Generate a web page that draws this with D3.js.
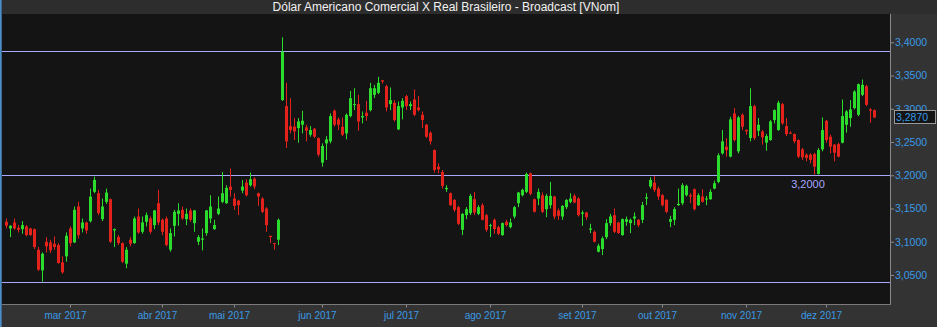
<!DOCTYPE html>
<html><head><meta charset="utf-8">
<script src="https://cdn.jsdelivr.net/npm/d3@7"></script>
<style>html,body{margin:0;padding:0;background:#333333;} svg{display:block}</style>
</head><body><svg id="c" width="937" height="327"></svg>
<script>
const title = "Dólar Americano Comercial X Real Brasileiro - Broadcast [VNom]";
const opens = [3.130,3.120,3.129,3.121,3.119,3.123,3.120,3.119,3.088,3.057,3.100,3.099,3.097,3.095,3.069,3.078,3.120,3.099,3.153,3.120,
3.129,3.131,3.175,3.173,3.134,3.160,3.164,3.117,3.107,3.098,3.067,3.103,3.098,3.138,3.115,3.130,3.135,3.125,3.158,3.133,
3.135,3.088,3.124,3.142,3.148,3.134,3.147,3.128,3.100,3.103,3.113,3.135,3.119,3.142,3.160,3.158,3.183,3.165,3.162,3.177,
3.189,3.185,3.195,3.173,3.165,3.150,3.109,3.098,3.103,3.313,3.304,3.274,3.273,3.271,3.276,3.272,3.261,3.270,3.256,3.219,
3.248,3.251,3.297,3.284,3.273,3.263,3.289,3.306,3.307,3.287,3.294,3.298,3.321,3.324,3.343,3.334,3.307,3.309,3.269,3.302,
3.319,3.304,3.314,3.302,3.291,3.276,3.264,3.238,3.213,3.205,3.179,3.173,3.163,3.152,3.118,3.140,3.143,3.164,3.142,3.155,
3.140,3.124,3.133,3.122,3.110,3.130,3.122,3.138,3.158,3.170,3.175,3.203,3.164,3.165,3.170,3.149,3.155,3.168,3.147,3.138,
3.152,3.160,3.169,3.165,3.142,3.144,3.118,3.115,3.085,3.089,3.107,3.128,3.140,3.129,3.110,3.130,3.128,3.135,3.133,3.133,
3.165,3.183,3.189,3.180,3.170,3.163,3.130,3.133,3.155,3.158,3.170,3.170,3.179,3.155,3.168,3.164,3.164,3.180,3.190,3.233,
3.243,3.228,3.293,3.236,3.291,3.268,3.256,3.304,3.267,3.266,3.249,3.253,3.283,3.268,3.307,3.274,3.264,3.262,3.253,3.239,
3.231,3.231,3.232,3.202,3.239,3.282,3.258,3.246,3.247,3.249,3.276,3.286,3.301,3.291,3.321,3.334,3.299,3.298];
const highs = [3.135,3.125,3.135,3.125,3.131,3.125,3.121,3.120,3.092,3.084,3.107,3.103,3.108,3.098,3.078,3.114,3.123,3.153,3.160,3.135,
3.130,3.180,3.198,3.178,3.165,3.180,3.165,3.120,3.110,3.099,3.092,3.107,3.138,3.150,3.138,3.144,3.138,3.148,3.178,3.135,
3.138,3.120,3.148,3.158,3.153,3.150,3.150,3.148,3.110,3.120,3.148,3.170,3.133,3.168,3.205,3.185,3.210,3.173,3.163,3.193,
3.194,3.204,3.197,3.174,3.167,3.152,3.109,3.098,3.135,3.4075,3.339,3.316,3.286,3.286,3.297,3.276,3.274,3.271,3.257,3.248,
3.259,3.293,3.299,3.287,3.287,3.293,3.327,3.331,3.321,3.296,3.312,3.339,3.336,3.348,3.343,3.336,3.332,3.313,3.311,3.316,
3.321,3.311,3.329,3.319,3.296,3.277,3.266,3.239,3.218,3.208,3.185,3.174,3.164,3.154,3.143,3.152,3.172,3.175,3.155,3.158,
3.142,3.127,3.135,3.124,3.129,3.133,3.135,3.154,3.175,3.180,3.204,3.204,3.165,3.180,3.174,3.172,3.190,3.169,3.150,3.155,
3.164,3.173,3.172,3.167,3.147,3.145,3.127,3.117,3.097,3.108,3.134,3.142,3.150,3.130,3.135,3.138,3.135,3.144,3.134,3.160,
3.173,3.197,3.199,3.183,3.172,3.164,3.139,3.152,3.180,3.188,3.186,3.173,3.180,3.173,3.179,3.169,3.179,3.192,3.233,3.268,
3.256,3.288,3.301,3.289,3.293,3.269,3.331,3.306,3.286,3.268,3.262,3.283,3.299,3.312,3.309,3.286,3.266,3.263,3.254,3.241,
3.233,3.233,3.234,3.241,3.287,3.283,3.261,3.247,3.249,3.314,3.298,3.313,3.328,3.338,3.344,3.336,3.301,3.299];
const lows = [3.120,3.107,3.118,3.114,3.112,3.108,3.109,3.089,3.056,3.040,3.084,3.083,3.088,3.067,3.052,3.070,3.093,3.098,3.105,3.114,
3.112,3.129,3.173,3.140,3.131,3.157,3.098,3.092,3.095,3.068,3.060,3.093,3.097,3.112,3.112,3.123,3.112,3.119,3.125,3.110,
3.093,3.085,3.108,3.124,3.133,3.125,3.130,3.115,3.095,3.087,3.109,3.128,3.118,3.140,3.158,3.157,3.168,3.148,3.140,3.173,
3.168,3.183,3.179,3.154,3.143,3.115,3.098,3.088,3.095,3.312,3.241,3.263,3.253,3.249,3.263,3.251,3.258,3.256,3.228,3.213,
3.223,3.248,3.273,3.268,3.259,3.254,3.287,3.298,3.267,3.278,3.282,3.296,3.316,3.322,3.338,3.296,3.298,3.281,3.268,3.284,
3.298,3.298,3.289,3.296,3.271,3.256,3.246,3.204,3.203,3.180,3.175,3.154,3.145,3.125,3.110,3.134,3.140,3.140,3.140,3.132,
3.115,3.107,3.112,3.110,3.109,3.123,3.120,3.135,3.152,3.168,3.173,3.170,3.144,3.155,3.143,3.137,3.150,3.134,3.133,3.133,
3.149,3.158,3.158,3.138,3.124,3.133,3.113,3.099,3.084,3.080,3.104,3.124,3.113,3.112,3.109,3.124,3.113,3.125,3.122,3.128,
3.155,3.180,3.175,3.163,3.153,3.143,3.122,3.125,3.154,3.155,3.168,3.158,3.147,3.154,3.159,3.155,3.163,3.179,3.188,3.231,
3.228,3.227,3.251,3.233,3.268,3.261,3.251,3.253,3.259,3.246,3.237,3.252,3.278,3.267,3.276,3.259,3.262,3.248,3.226,3.223,
3.221,3.218,3.201,3.201,3.236,3.249,3.233,3.221,3.227,3.248,3.264,3.273,3.299,3.289,3.319,3.304,3.279,3.286];
const closes = [3.124,3.124,3.120,3.118,3.125,3.110,3.110,3.092,3.058,3.082,3.093,3.087,3.092,3.068,3.054,3.109,3.098,3.148,3.110,3.129,
3.117,3.168,3.193,3.143,3.153,3.174,3.100,3.119,3.098,3.070,3.088,3.097,3.135,3.114,3.129,3.140,3.115,3.147,3.129,3.115,
3.095,3.113,3.145,3.147,3.135,3.142,3.133,3.147,3.107,3.105,3.147,3.153,3.125,3.150,3.173,3.181,3.178,3.154,3.155,3.183,
3.170,3.194,3.183,3.168,3.145,3.125,3.107,3.097,3.133,3.386,3.251,3.268,3.266,3.281,3.282,3.267,3.268,3.258,3.231,3.244,
3.254,3.289,3.276,3.276,3.261,3.291,3.316,3.307,3.281,3.289,3.289,3.331,3.331,3.339,3.341,3.302,3.313,3.283,3.304,3.312,
3.304,3.307,3.291,3.298,3.283,3.258,3.251,3.208,3.209,3.184,3.181,3.155,3.148,3.127,3.142,3.149,3.169,3.144,3.152,3.133,
3.118,3.125,3.119,3.112,3.128,3.125,3.129,3.152,3.174,3.178,3.202,3.172,3.145,3.175,3.145,3.169,3.169,3.138,3.139,3.154,
3.163,3.165,3.159,3.140,3.144,3.137,3.120,3.100,3.094,3.105,3.128,3.138,3.115,3.113,3.134,3.134,3.133,3.138,3.125,3.155,
3.167,3.193,3.178,3.168,3.155,3.145,3.134,3.149,3.157,3.185,3.184,3.168,3.149,3.170,3.160,3.165,3.175,3.188,3.230,3.251,
3.238,3.284,3.253,3.287,3.273,3.266,3.304,3.256,3.276,3.257,3.259,3.281,3.298,3.309,3.278,3.262,3.263,3.251,3.228,3.227,
3.226,3.223,3.213,3.238,3.268,3.253,3.243,3.234,3.228,3.289,3.296,3.299,3.326,3.337,3.336,3.306,3.297,3.287];
const monthLabels = ["mar 2017","abr 2017","mai 2017","jun 2017","jul 2017","ago 2017","set 2017","out 2017","nov 2017","dez 2017"];
const monthStartIndex = [16,39,57,79,100,121,144,164,185,205];
const yTickValues = [3.05,3.10,3.15,3.20,3.25,3.30,3.35,3.40];
const refLines = [3.387,3.200,3.039];
const refLabelValue = 3.200;
const lastPrice = 3.287;

const svg = d3.select("#c");
const W = 937, H = 327;
const plot = {left:2, right:890, top:14, bottom:304};
const FONT = "'Liberation Sans', Arial, sans-serif";
const BLUE = "#3a9ae6";
const UP = "#2cdc2c", DOWN = "#e2221b", REF = "#a8a8ff";

const locale = d3.formatLocale({decimal:",", thousands:".", grouping:[3], currency:["R$",""]});
const fmt = locale.format(".4f");

const n = opens.length;
const x = d3.scaleLinear().domain([0, n - 1]).range([6, 874]);
const y = d3.scaleLinear().domain([3.05, 3.40]).range([275, 42.3]);

// backgrounds
svg.append("rect").attr("width", W).attr("height", H).attr("fill", "#333333");
svg.append("rect").attr("x",0).attr("y",0).attr("width",W).attr("height",plot.top).attr("fill","#2d2d2d");
svg.append("rect").attr("x", plot.left).attr("y", plot.top)
  .attr("width", plot.right - plot.left).attr("height", plot.bottom - plot.top).attr("fill", "#141414");
svg.append("rect").attr("x",0).attr("y",0).attr("width",1.6).attr("height",H).attr("fill","#4a8fcc");

// title
svg.append("text").attr("x", (plot.left + plot.right)/2).attr("y", 11)
  .attr("text-anchor","middle").attr("fill","#f2f2f2")
  .style("font-family", FONT).style("font-size","12px").text(title);

// reference lines
svg.append("g").selectAll("line").data(refLines).join("line")
  .attr("x1", plot.left).attr("x2", plot.right)
  .attr("y1", d => Math.round(y(d)) + 0.5).attr("y2", d => Math.round(y(d)) + 0.5)
  .attr("stroke", REF).attr("stroke-width", 1);

// candles
const g = svg.append("g");
const idx = d3.range(n);
g.selectAll("line.w").data(idx).join("line").attr("class","w")
  .attr("x1", i => Math.round(x(i)) + 0.5).attr("x2", i => Math.round(x(i)) + 0.5)
  .attr("y1", i => y(highs[i])).attr("y2", i => y(lows[i]))
  .attr("stroke", i => closes[i] >= opens[i] ? UP : DOWN).attr("stroke-width", 1);
g.selectAll("rect.b").data(idx).join("rect").attr("class","b")
  .attr("x", i => Math.round(x(i)) - 1).attr("width", 3)
  .attr("y", i => y(Math.max(opens[i], closes[i])))
  .attr("height", i => Math.max(1, Math.abs(y(opens[i]) - y(closes[i]))))
  .attr("fill", i => closes[i] >= opens[i] ? UP : DOWN);

// ref label
svg.append("text").attr("x", 808).attr("y", y(refLabelValue) + 12.5)
  .attr("text-anchor","middle").attr("fill", REF)
  .style("font-family", FONT).style("font-size","11px").text(fmt(refLabelValue));

// right axis
const ra = svg.append("g").attr("transform", `translate(${plot.right},0)`)
  .call(d3.axisRight(y).tickValues(yTickValues).tickSize(4).tickPadding(1).tickFormat(fmt));
ra.select(".domain").remove();
ra.selectAll(".tick line").attr("stroke", "#8a8a8a");
ra.selectAll(".tick text").attr("fill", BLUE).style("font-family", FONT).style("font-size","10.5px");
svg.append("line").attr("x1", plot.right + 0.5).attr("x2", plot.right + 0.5)
  .attr("y1", plot.top).attr("y2", plot.bottom + 1).attr("stroke", "#8a8a8a");

// bottom axis
const ba = svg.append("g").attr("transform", `translate(0,${plot.bottom + 0.5})`)
  .call(d3.axisBottom(x).tickValues(monthStartIndex).tickSize(3).tickPadding(4)
    .tickFormat((d, i) => monthLabels[i]));
ba.select(".domain").remove();
ba.selectAll(".tick line").attr("stroke", "#8a8a8a");
ba.selectAll(".tick text").attr("fill", BLUE).attr("dx", -5)
  .style("font-family", FONT).style("font-size","10px");
svg.append("line").attr("x1", plot.left).attr("x2", plot.right + 1)
  .attr("y1", plot.bottom + 0.5).attr("y2", plot.bottom + 0.5).attr("stroke", "#7a7a7a");

// last price box
const ly = y(lastPrice);
svg.append("rect").attr("x", 894.5).attr("y", Math.round(ly) - 6.5).attr("width", 41).attr("height", 13)
  .attr("fill", "#141414").attr("stroke", "#9a9a9a").attr("stroke-width", 1);
svg.append("text").attr("x", 896).attr("y", ly).attr("dy", "0.35em")
  .attr("fill", BLUE).style("font-family", FONT).style("font-size","10.5px").text(fmt(lastPrice));
</script></body></html>
